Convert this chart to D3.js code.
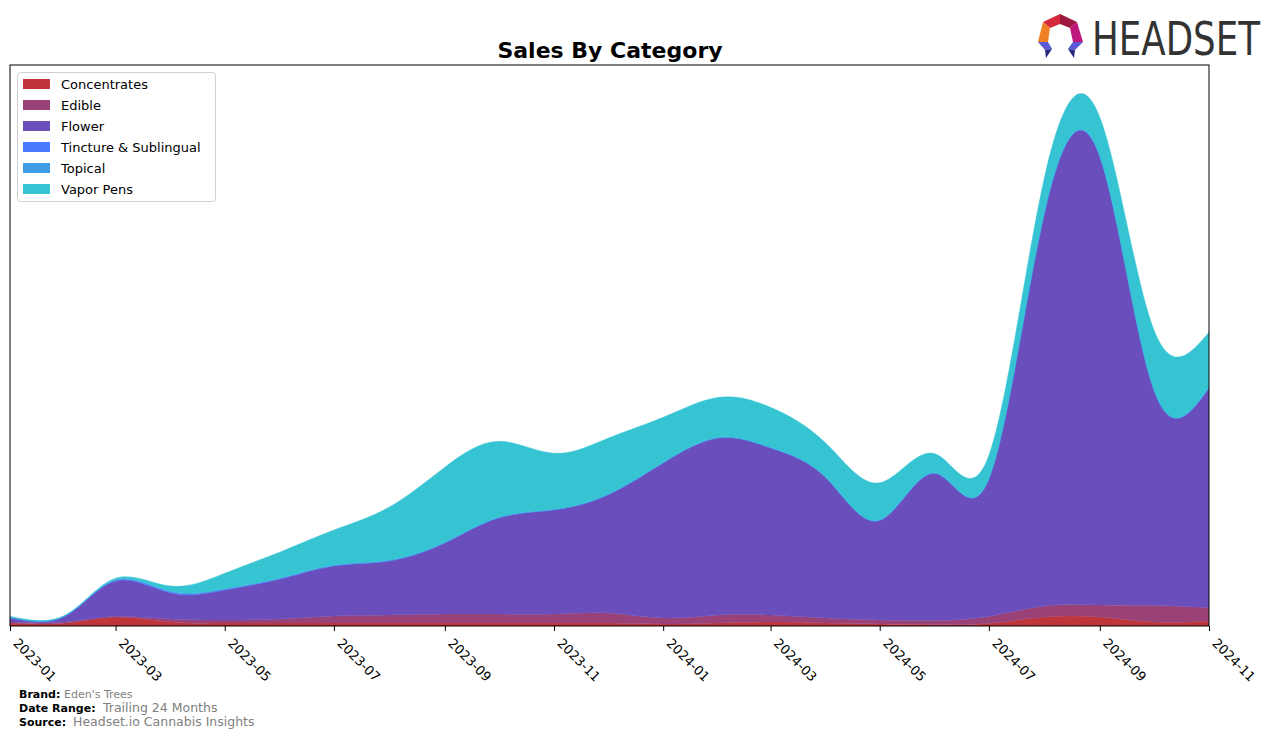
<!DOCTYPE html>
<html>
<head>
<meta charset="utf-8">
<script src="https://cdn.jsdelivr.net/npm/d3@7"></script>
<style>
  html, body { margin: 0; padding: 0; background: #fff; }
  svg { display: block; font-family: "DejaVu Sans", sans-serif; }
</style>
</head>
<body>
<svg id="chart" width="1276" height="742"></svg>
<script>
// ---- Data ----
const months = ["2023-01","2023-02","2023-03","2023-04","2023-05","2023-06","2023-07","2023-08",
  "2023-09","2023-10","2023-11","2023-12","2024-01","2024-02","2024-03","2024-04","2024-05",
  "2024-06","2024-07","2024-08","2024-09","2024-10","2024-11"];
const categories = ["Concentrates","Edible","Flower","Tincture & Sublingual","Topical","Vapor Pens"];
const colors = ["#c0353a","#9a4178","#6a4fbc","#4a78ff","#3f9ce6","#36c4d3"];

const concentrates = [0.53,0.53,1.60,0.71,0.53,0.53,0.53,0.53,0.53,0.53,0.53,0.53,0.36,0.53,0.71,0.53,0.36,0.27,0.45,1.60,1.60,0.71,0.89];
const edible       = [0.18,0.18,0.09,0.53,0.53,0.71,1.25,1.43,1.60,1.60,1.60,1.78,1.07,1.43,1.25,0.89,0.71,0.71,1.25,1.96,2.14,2.94,2.39];
const flower       = [0.71,1.07,6.33,4.63,5.35,7.13,8.91,9.63,12.66,17.11,18.54,21.03,27.63,31.55,29.77,24.96,17.74,26.20,24.50,70.00,79.90,38.60,39.14];
const tincture     = [0.08,0.05,0.12,0.18,0.12,0.10,0.09,0.09,0.08,0.07,0.07,0.07,0.06,0.06,0.06,0.06,0.06,0.06,0.06,0.08,0.08,0.07,0.07];
const topical      = [0.08,0.05,0.12,0.18,0.12,0.10,0.09,0.09,0.08,0.07,0.07,0.07,0.06,0.06,0.06,0.06,0.06,0.06,0.06,0.08,0.08,0.07,0.07];
const vaporPens    = [0.18,0.07,0.27,0.89,2.76,4.63,6.24,9.45,13.37,13.55,9.98,9.98,8.02,7.13,7.13,6.06,6.60,3.39,4.10,6.20,6.90,10.60,9.80];
const tickLabels = ["2023-01","2023-03","2023-05","2023-07","2023-09","2023-11","2024-01","2024-03","2024-05","2024-07","2024-09","2024-11"];
const yMax = 100;

const seriesValues = [concentrates, edible, flower, tincture, topical, vaporPens];
const parse = d3.timeParse("%Y-%m");
const rows = months.map((m, i) => {
  const r = { date: parse(m) };
  categories.forEach((c, k) => r[c] = seriesValues[k][i]);
  return r;
});

// ---- Layout ----
const svg = d3.select("#chart");
const L = 10, R = 1209, T = 65, B = 626;

const x = d3.scaleTime().domain([parse(months[0]), parse(months[months.length - 1])]).range([L, R]);
const y = d3.scaleLinear().domain([0, yMax]).range([B, T]);

const stack = d3.stack().keys(categories);
const layers = stack(rows);

svg.append("defs").append("clipPath").attr("id", "plotclip")
  .append("rect").attr("x", L).attr("y", T).attr("width", R - L).attr("height", B - T);

const area = d3.area()
  .curve(d3.curveNatural)
  .x(d => x(d.data.date))
  .y0(d => y(d[0]))
  .y1(d => y(d[1]));

svg.append("g").attr("clip-path", "url(#plotclip)")
  .selectAll("path").data(layers).join("path")
  .attr("d", area)
  .attr("fill", (d, i) => colors[i])
  .attr("stroke", (d, i) => colors[i])
  .attr("stroke-width", 0.4);

// Frame
svg.append("rect").attr("x", L).attr("y", T).attr("width", R - L).attr("height", B - T)
  .attr("fill", "none").attr("stroke", "#000").attr("stroke-width", 1);

// X axis
const xAxis = d3.axisBottom(x)
  .tickValues(tickLabels.map(parse))
  .tickFormat(d3.timeFormat("%Y-%m"))
  .tickSize(5).tickSizeOuter(0);
const gx = svg.append("g").attr("transform", `translate(0,${B})`).call(xAxis);
gx.select(".domain").remove();
gx.selectAll(".tick line").attr("stroke", "#000");
gx.selectAll(".tick text")
  .attr("font-family", "DejaVu Sans, sans-serif")
  .attr("font-size", 13)
  .attr("fill", "#000")
  .attr("text-anchor", "start")
  .attr("x", 0).attr("y", 0).attr("dy", 0)
  .attr("transform", "translate(2,18) rotate(45)");

// Title
svg.append("text").attr("x", 610).attr("y", 58).attr("text-anchor", "middle")
  .attr("font-size", 22).attr("font-weight", "bold").attr("fill", "#000")
  .text("Sales By Category");

// Legend
const lg = svg.append("g");
lg.append("rect").attr("x", 17.5).attr("y", 72.5).attr("width", 198).attr("height", 129)
  .attr("rx", 3).attr("fill", "#fff").attr("fill-opacity", 0.8).attr("stroke", "#d0d0d0");
categories.forEach((c, i) => {
  const yy = 84 + i * 21;
  lg.append("rect").attr("x", 23).attr("y", yy - 5).attr("width", 27).attr("height", 10).attr("fill", colors[i]);
  lg.append("text").attr("x", 61).attr("y", yy + 5).attr("font-size", 13).attr("fill", "#000").text(c);
});

// Footer
const foot = [["Brand:", "Eden's Trees", 698, 11, 64], ["Date Range:", "Trailing 24 Months", 712, 12.5, 103], ["Source:", "Headset.io Cannabis Insights", 726, 12.5, 73]];
foot.forEach(([k, v, yy, fs, vx]) => {
  svg.append("text").attr("x", 19).attr("y", yy).attr("font-size", 11)
    .attr("font-weight", "bold").attr("fill", "#000").text(k);
  svg.append("text").attr("x", vx).attr("y", yy).attr("font-size", fs)
    .attr("fill", "#808080").text(v);
});

// Logo
const logo = svg.append("g");
const polys = [
  [[[1043,22],[1060,14],[1060,24],[1050,28]], "#d42a3c"],
  [[[1060,14],[1077,22],[1070,28],[1060,24]], "#9e1840"],
  [[[1043,22],[1050,28],[1048,42],[1038,42]], "#f08024"],
  [[[1077,22],[1083,42],[1073,42],[1070,28]], "#c0187c"],
  [[[1038,42],[1048,42],[1052,49],[1045,50]], "#5a5ad6"],
  [[[1045,50],[1052,49],[1046,58]], "#262a7c"],
  [[[1073,42],[1083,42],[1075,50],[1068,49]], "#5a5ad6"],
  [[[1068,49],[1075,50],[1074,58]], "#262a7c"]
];
polys.forEach(([pts, col]) => logo.append("polygon").attr("points", pts.map(p => p.join(",")).join(" ")).attr("fill", col));
const logoText = logo.append("text").attr("x", 0).attr("y", 0)
  .attr("font-family", "'Liberation Sans Narrow', 'DejaVu Sans Condensed', sans-serif")
  .attr("font-size", 47).attr("fill", "#333")
  .text("HEADSET");
const natW = logoText.node().getComputedTextLength() || 168;
logoText.attr("transform", `translate(1092,55) scale(${168 / natW},1)`);
</script>
</body>
</html>
